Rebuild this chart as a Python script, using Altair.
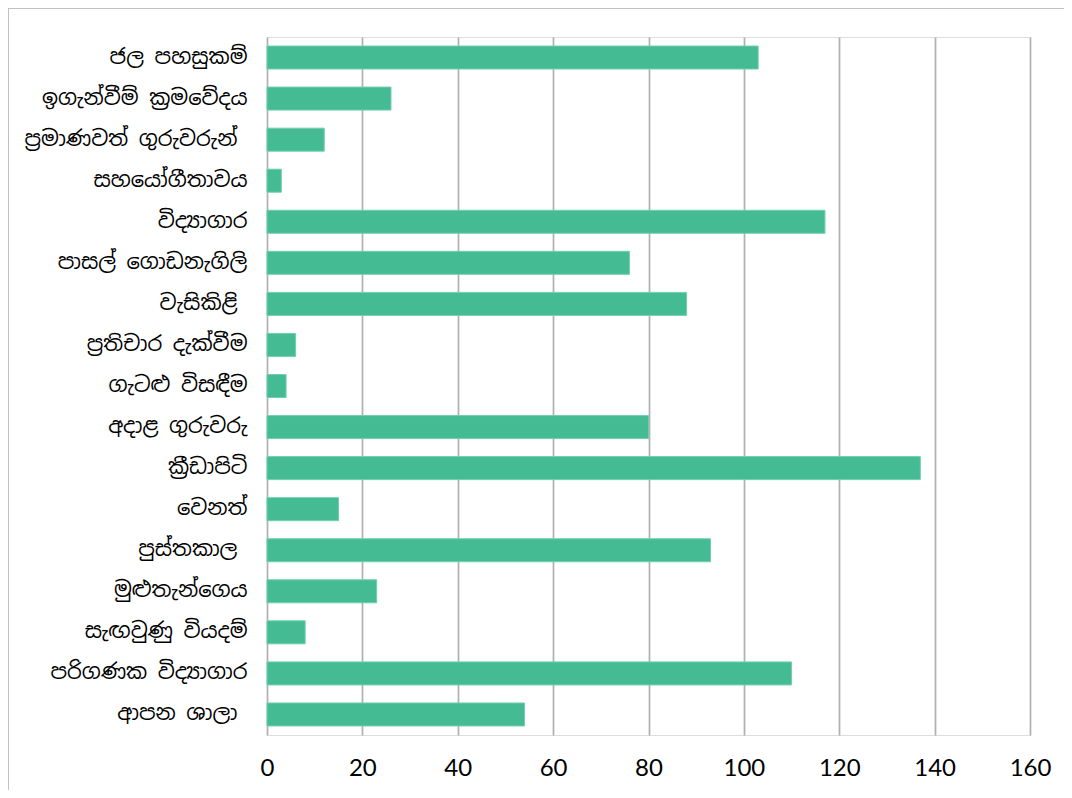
import altair as alt
import pandas as pd

categories = [
    "ජල පහසුකම්",
    "ඉගැන්වීම් ක්‍රමවේදය",
    "ප්‍රමාණවත් ගුරුවරුන් ",
    "සහයෝගීතාවය",
    "විද්‍යාගාර",
    "පාසල් ගොඩනැගිලි",
    "වැසිකිළි ",
    "ප්‍රතිචාර දැක්වීම",
    "ගැටළු විසඳීම",
    "අදාළ ගුරුවරු",
    "ක්‍රීඩාපිටි",
    "වෙනත්",
    "පුස්තකාල ",
    "මුළුතැන්ගෙය",
    "සැඟවුණු වියදම්",
    "පරිගණක විද්‍යාගාර",
    "ආපන ශාලා ",
]
values = [103, 26, 12, 3, 117, 76, 88, 6, 4, 80, 137, 15, 93, 23, 8, 110, 54]
x_ticks = [0, 20, 40, 60, 80, 100, 120, 140, 160]

df = pd.DataFrame({"category": categories, "value": values})

sinhala_font = "Iskoola Pota, Noto Sans Sinhala, Noto Serif Sinhala, sans-serif"

bars = alt.Chart(df).mark_bar(color="#44BB92", stroke="#6fd0ae", strokeWidth=1).encode(
    x=alt.X(
        "value:Q",
        scale=alt.Scale(domain=[0, 160], nice=False, zero=True),
        axis=alt.Axis(
            values=x_ticks,
            title=None,
            grid=True,
            gridColor="#b0b0b0",
            gridWidth=1.7,
            domain=False,
            ticks=False,
            labelFlush=False,
            labelFont="Lato",
            labelFontSize=24,
            labelColor="#000000",
            labelPadding=21,
        ),
    ),
    y=alt.Y(
        "category:N",
        sort=None,
        scale=alt.Scale(paddingInner=0.44, paddingOuter=0.22),
        axis=alt.Axis(
            title=None,
            domain=False,
            ticks=False,
            grid=False,
            labelFont=sinhala_font,
            labelFontSize=21,
            labelColor="#000000",
            labelPadding={
                "condition": {"test": "slice(datum.value, -1) == ' '", "value": 30},
                "value": 20,
            },
            labelLimit=400,
        ),
    ),
)

frame_src = pd.DataFrame({"a": [0]})
frame_top = alt.Chart(frame_src).mark_rule(color="#c0c0c0", strokeWidth=2).encode(
    x=alt.value(-259),
    x2=alt.value(1000),
    y=alt.value(-29),
)
frame_left = alt.Chart(frame_src).mark_rule(color="#c0c0c0", strokeWidth=2).encode(
    x=alt.value(-259),
    y=alt.value(-29),
    y2=alt.value(1000),
)

chart = alt.layer(frame_top, frame_left, bars).properties(
    width=763,
    height=698,
    autosize=alt.AutoSizeParams(type="none"),
    padding={"left": 259, "top": 29, "right": 34, "bottom": 55},
).configure_view(stroke=None).configure(background="#ffffff")

chart.save("out.html", embed_options={"renderer": "svg", "actions": False})
